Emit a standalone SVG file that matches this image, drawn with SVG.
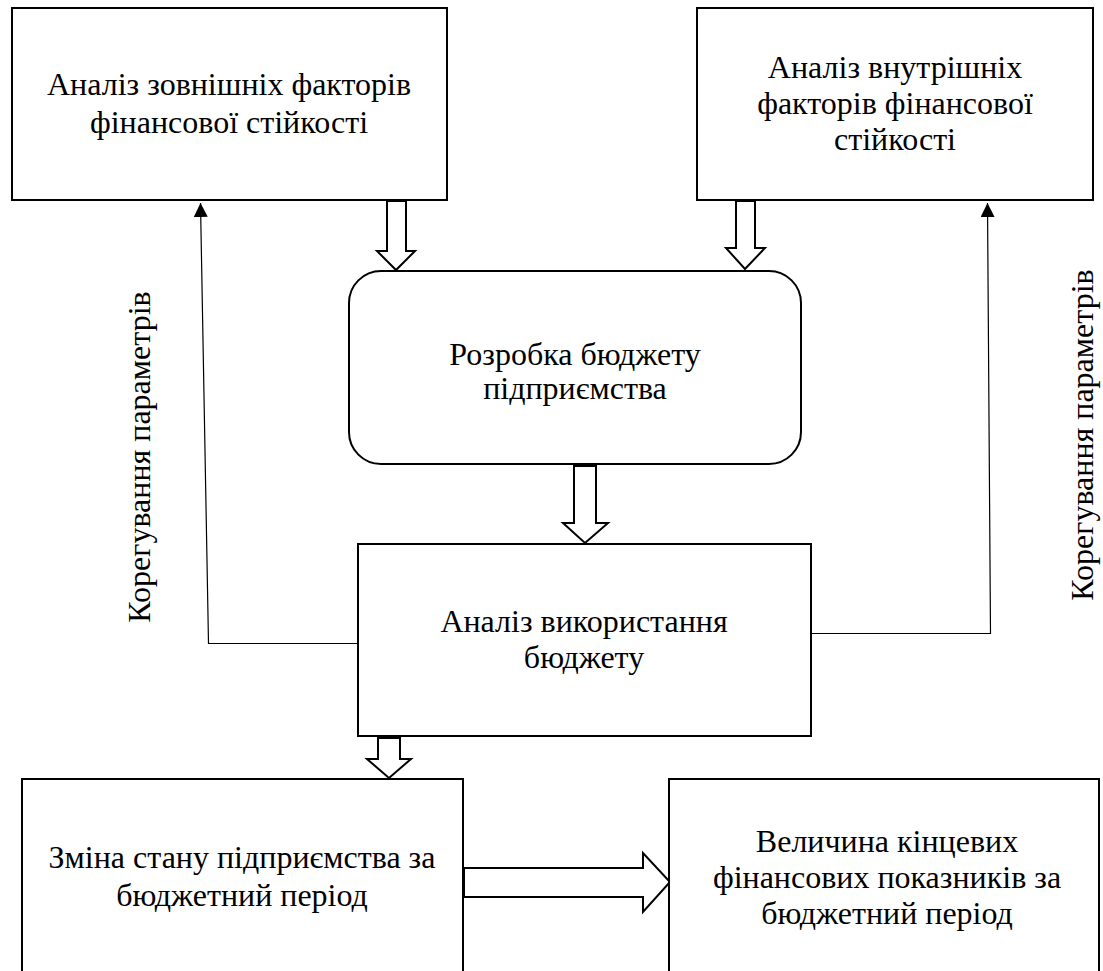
<svg xmlns="http://www.w3.org/2000/svg" width="1103" height="971" viewBox="0 0 1103 971">
<style>
.box{fill:#fff;stroke:#000;stroke-width:2}
.harrow{fill:#fff;stroke:#000;stroke-width:2;stroke-linejoin:miter}
.thin{fill:none;stroke:#000;stroke-width:1.2}
.t{font-family:'Liberation Serif','Times New Roman',serif;font-size:32px;fill:#000;text-anchor:middle}
</style>
<defs>
<marker id="ah" viewBox="0 0 14 14" refX="14" refY="7" markerWidth="14" markerHeight="14" markerUnits="userSpaceOnUse" orient="auto">
<path d="M0,0 L14,7 L0,14 Z" fill="#000"/>
</marker>
</defs>
<rect width="1103" height="971" fill="#fff"/>
<g id="connectors">
<polyline class="thin" points="358,643.5 208.5,643.5 200.5,203" marker-end="url(#ah)"/>
<polyline class="thin" points="811,633.5 990.5,633.5 987.5,203" marker-end="url(#ah)"/>
<polygon class="harrow" points="387,201 406,201 406,251 415,251 396,270 377,251 387,251"/>
<polygon class="harrow" points="736,201 755,201 755,248 765,248 745,269 726,248 736,248"/>
<polygon class="harrow" points="574,466 596,466 596,523 608,523 585,543 563,523 574,523"/>
<polygon class="harrow" points="378,738 400,738 400,759 411,759 389,778 367,759 378,759"/>
<polygon class="harrow" points="464,868 643,868 643,853 670,882 643,912 643,897 464,897"/>
</g>
<g id="n1">
<rect class="box" x="12" y="8" width="435" height="192"/>
<text class="t" x="229" y="95">Аналіз зовнішніх факторів</text>
<text class="t" x="229" y="133">фінансової стійкості</text>
</g>
<g id="n2">
<rect class="box" x="697" y="8" width="396" height="192"/>
<text class="t" x="895" y="78">Аналіз внутрішніх</text>
<text class="t" x="895" y="114">факторів фінансової</text>
<text class="t" x="895" y="150">стійкості</text>
</g>
<g id="n3">
<rect class="box" x="349" y="271" width="452" height="193" rx="32" ry="32"/>
<text class="t" x="575" y="365">Розробка бюджету</text>
<text class="t" x="575" y="399">підприємства</text>
</g>
<g id="n4">
<rect class="box" x="358" y="544" width="453" height="192"/>
<text class="t" x="584" y="632">Аналіз використання</text>
<text class="t" x="584" y="668">бюджету</text>
</g>
<g id="n5">
<rect class="box" x="22" y="779" width="441" height="210"/>
<text class="t" x="242" y="868">Зміна стану підприємства за</text>
<text class="t" x="242" y="906">бюджетний період</text>
</g>
<g id="n6">
<rect class="box" x="669" y="779" width="430" height="210"/>
<text class="t" x="887" y="852">Величина кінцевих</text>
<text class="t" x="887" y="888">фінансових показників за</text>
<text class="t" x="887" y="924">бюджетний період</text>
</g>
<g id="labels">
<text class="t" transform="translate(150,457) rotate(-90)">Корегування параметрів</text>
<text class="t" transform="translate(1093,435) rotate(-90)">Корегування параметрів</text>
</g>
</svg>
